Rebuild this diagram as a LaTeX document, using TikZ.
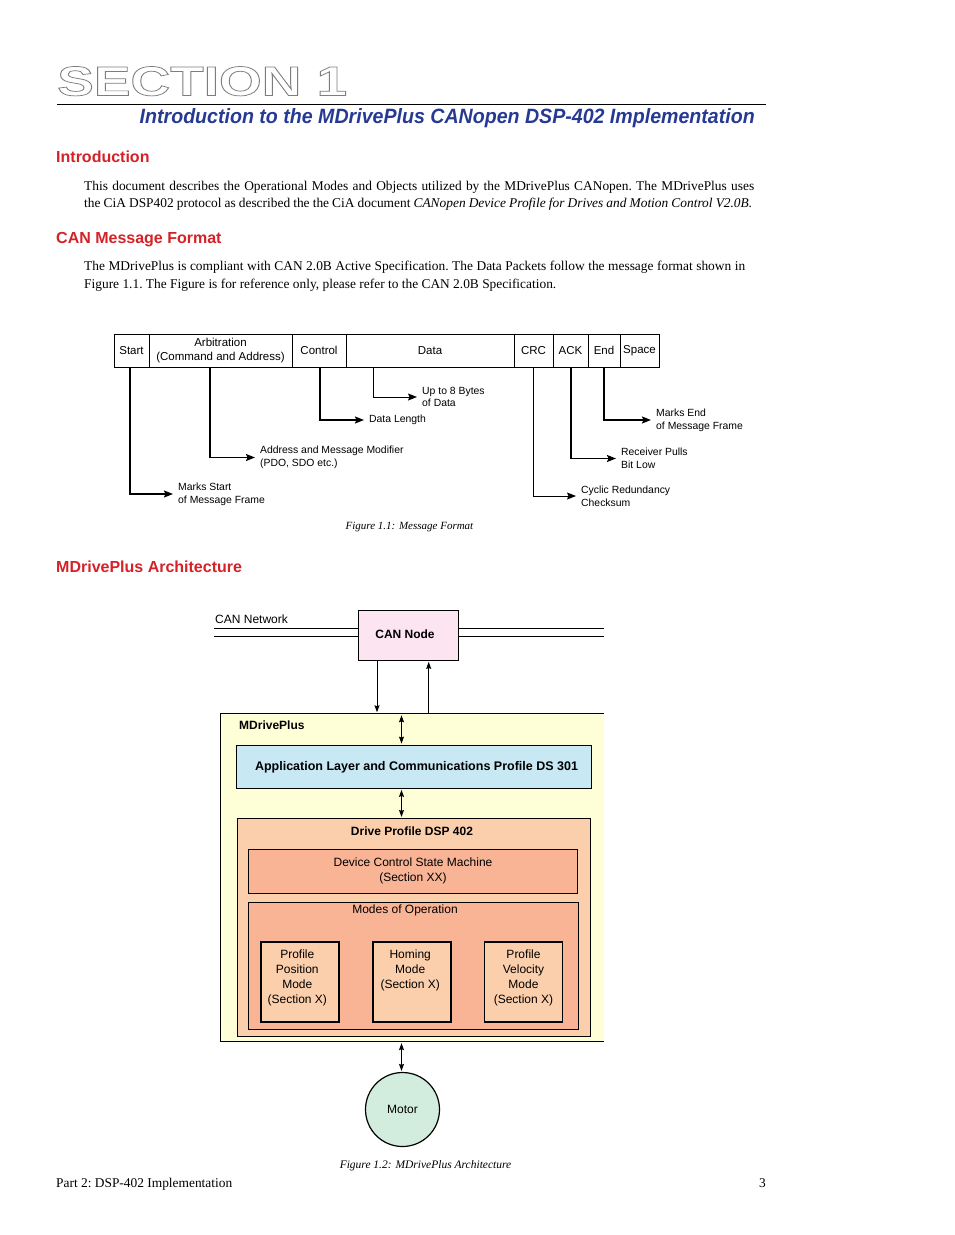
\documentclass[tikz,border=0pt]{standalone}
\usepackage{fontspec}
\setmainfont{Liberation Serif}
\setsansfont{Liberation Sans}
\usetikzlibrary{arrows.meta}
\definecolor{titleblue}{RGB}{38,58,148}
\definecolor{headred}{RGB}{212,34,40}
\definecolor{nodepink}{RGB}{252,228,240}
\definecolor{mdyellow}{RGB}{255,255,215}
\definecolor{appblue}{RGB}{200,233,244}
\definecolor{peach}{RGB}{252,207,172}
\definecolor{salmon}{RGB}{249,180,150}
\definecolor{motorgreen}{RGB}{210,236,222}
\definecolor{outlinegray}{RGB}{125,125,125}
\newcommand\fTab{\sffamily\fontsize{11.5}{13.5}\selectfont}
\newcommand\fLbl{\sffamily\fontsize{10.4}{12.7}\selectfont}
\newcommand\fFig{\sffamily\fontsize{12}{15}\selectfont}
\newcommand\fBody{\rmfamily\fontsize{13.4}{17}\selectfont\frenchspacing}
\newcommand\fHead{\sffamily\bfseries\fontsize{16}{19}\selectfont}
\newcommand\fCap{\rmfamily\itshape\fontsize{11}{13}\selectfont}
\newcommand\outln[1]{\special{pdf:literal direct 1 Tr 0.7 w}#1\special{pdf:literal direct 0 Tr}}
\begin{document}
\begin{tikzpicture}[x=1pt,y=-1pt,
  txt/.style={inner sep=0pt},
  body/.style={txt,font=\fBody,anchor=base west},
  head/.style={txt,font=\fHead,text=headred,anchor=base west},
  cell/.style={draw,line width=0.8pt,minimum height=33pt,inner sep=0pt,font=\fTab,align=center},
  lbl/.style={font=\fLbl,align=left,anchor=west,inner xsep=5pt,inner ysep=0pt},
  lthick/.style={line width=1.6pt,-{Stealth[length=9pt,width=7pt,inset=1.5pt]}},
  lthin/.style={line width=0.9pt,-{Stealth[length=9pt,width=7pt,inset=1.5pt]}},
  box/.style={draw,line width=0.8pt,inner sep=0pt,font=\fFig,align=center},
  modebox/.style={draw,line width=1.8pt,fill=peach,minimum width=78pt,minimum height=80.6pt,inner sep=0pt},
  modetext/.style={txt,font=\fFig,align=center,anchor=north},
  sarrow/.style={line width=0.9pt,-{Stealth[length=7pt,width=5pt,inset=1pt]}},
  dbl/.style={line width=0.9pt,{Stealth[length=7pt,width=5pt,inset=1pt]}-{Stealth[length=7pt,width=5pt,inset=1pt]}}
]
\useasboundingbox (0,0) rectangle (954,1235);
\fill[white] (0,0) rectangle (954,1235);

% ---------- header ----------
\node[txt,anchor=base west,text=outlinegray] (sect) at (57,95.5)
  {\resizebox{290pt}{29pt}{\sffamily\bfseries\fontsize{40}{40}\selectfont\outln{SECTION 1}}};
\coordinate (ruleL) at (57,104);
\coordinate (ruleR) at (766,104);
\draw[line width=0.8pt] (ruleL) -- (ruleR);
\node[txt,anchor=base east,text=titleblue] (title) at (755,123.3)
  {\resizebox{615pt}{15pt}{\sffamily\bfseries\itshape Introduction to the MDrivePlus CANopen DSP-402 Implementation}};

% ---------- Introduction ----------
\node[head] (h1) at (56,162.7) {Introduction};
\node[body] (p1) at (84,190.5) {\makebox[670pt][s]{This document describes the Operational Modes and Objects utilized by the MDrivePlus CANopen. The MDrivePlus uses}};
\node[body] (p2) at (84,207.5) {\makebox[668pt][s]{the CiA DSP402 protocol as described the the CiA document \textit{CANopen Device Profile for Drives and Motion Control V2.0B.}}};

\node[head] (h2) at (56,243) {CAN Message Format};
\node[body] (p3) at (84,270.5) {\makebox[661pt][s]{The MDrivePlus is compliant with CAN 2.0B Active Specification. The Data Packets follow the message format shown in}};
\node[body] (p4) at (84,288.5) {Figure 1.1. The Figure  is for reference only, please refer to the CAN 2.0B Specification.};

% ---------- Figure 1.1 ----------
\node[cell,minimum width=35pt] (start) at (131.5,350.5) {Start};
\node[cell,minimum width=143pt] (arb) at (220.5,350.5) {Arbitration\\(Command and Address)};
\node[cell,minimum width=54pt] (ctrl) at (319,350.5) {Control};
\node[cell,minimum width=168pt] (data) at (430,350.5) {Data};
\node[cell,minimum width=39pt] (crc) at (533.5,350.5) {CRC};
\node[cell,minimum width=35pt] (ack) at (570.5,350.5) {ACK};
\node[cell,minimum width=32pt] (endc) at (604,350.5) {End};
\node[cell,minimum width=39pt] (space) at (639.5,350.5) {Space};

\node[lbl] (lstart) at (173,494) {Marks Start\\of Message Frame};
\node[lbl] (larb) at (255,457.5) {Address and Message Modifier\\(PDO, SDO etc.)};
\node[lbl] (lctrl) at (364,420) {Data Length};
\node[lbl] (ldata) at (417,397) {Up to 8 Bytes\\of Data};
\node[lbl] (lcrc) at (576,496) {Cyclic Redundancy\\Checksum};
\node[lbl] (lack) at (616,458.5) {Receiver Pulls\\Bit Low};
\node[lbl] (lend) at (651,420) {Marks End\\of Message Frame};

\draw[lthick] ([xshift=-1.5pt]start.south) |- (lstart.west);
\draw[lthick] ([xshift=-10.5pt]arb.south) |- (larb.west);
\draw[lthick] ([xshift=1pt]ctrl.south) |- (lctrl.west);
\draw[lthin] ([xshift=-57pt]data.south) |- (ldata.west);
\draw[lthin] ([xshift=-0.5pt]crc.south) |- (lcrc.west);
\draw[lthick] ([xshift=0.5pt]ack.south) |- (lack.west);
\draw[lthick] (endc.south) |- (lend.west);

\node[txt,font=\fCap] (cap1) at (409.5,527) {Figure 1.1: Message Format};

% ---------- Architecture ----------
\node[head] (h3) at (56,572) {MDrivePlus Architecture};

\node[box,fill=nodepink,minimum width=100pt,minimum height=50pt,font=\fFig\bfseries] (canode) at (408,635) {\raisebox{1pt}{CAN Node\hspace{6pt}}};
\node[txt,font=\fFig,anchor=west] (cannet) at (215,619.5) {CAN Network};
\coordinate (netL1) at (214,628.3);
\coordinate (netL2) at (214,636);
\coordinate (netR1) at (604,628.3);
\coordinate (netR2) at (604,636);
\draw[line width=0.8pt] (netL1) -- (netL1 -| canode.west);
\draw[line width=0.8pt] (netL2) -- (netL2 -| canode.west);
\draw[line width=0.8pt] (netR1 -| canode.east) -- (netR1);
\draw[line width=0.8pt] (netR2 -| canode.east) -- (netR2);

\node[fill=mdyellow,minimum width=383pt,minimum height=327.5pt,inner sep=0pt] (mdp) at (412.5,877.7) {};
\draw[line width=0.9pt] (mdp.north east) -- (mdp.north west) -- (mdp.south west) -- (mdp.south east);
\node[txt,font=\fFig\bfseries,anchor=west] (mdplbl) at (239,725.5) {MDrivePlus};

\draw[sarrow,shorten >=1.5pt] ([xshift=-31pt]canode.south) -- ([xshift=-31pt]canode.south |- mdp.north);
\draw[sarrow,shorten >=1.5pt] ([xshift=20.7pt]canode.south |- mdp.north) -- ([xshift=20.7pt]canode.south);

\node[box,fill=appblue,minimum width=355pt,minimum height=43pt,font=\sffamily\bfseries\fontsize{12.5}{15}\selectfont] (app) at (414,767) {\raisebox{3pt}{\hspace{5pt}Application Layer and Communications Profile DS 301}};
\draw[dbl,shorten <=1.5pt,shorten >=1.5pt] ([xshift=-12.5pt]app.north |- mdp.north) -- ([xshift=-12.5pt]app.north);

\node[box,fill=peach,minimum width=353.4pt,minimum height=217.7pt] (dsp) at (414,927.15) {};
\node[txt,font=\fFig\bfseries] (dsptitle) at (412,830.7) {Drive Profile DSP 402};
\draw[dbl,shorten <=1pt,shorten >=1pt] ([xshift=-12.5pt]app.south) -- ([xshift=-12.5pt]app.south |- dsp.north);

\node[box,fill=salmon,minimum width=329.4pt,minimum height=44pt] (dcsm) at (413,871.3) {Device Control State Machine\\(Section XX)};

\node[box,fill=salmon,minimum width=330pt,minimum height=127pt] (modes) at (413,965.8) {};
\node[txt,font=\fFig] (modestitle) at (405,910.7) {Modes of Operation};

\node[modebox] (ppm) at (300.3,982) {};
\node[modebox] (hom) at (412.2,982) {};
\node[modebox] (pvm) at (523.5,982) {};
\node[modetext] (ppmt) at ([xshift=-3pt,yshift=-8.6pt]ppm.north) {Profile\\Position\\Mode\\(Section X)};
\node[modetext] (homt) at ([xshift=-2pt,yshift=-8.6pt]hom.north) {Homing\\Mode\\(Section X)};
\node[modetext] (pvmt) at ([yshift=-8.6pt]pvm.north) {Profile\\Velocity\\Mode\\(Section X)};

\node[draw,circle,line width=1.2pt,fill=motorgreen,minimum size=74pt,inner sep=0pt,font=\fFig] (motor) at (402.5,1109.5) {\raisebox{-2pt}{Motor}};
\draw[dbl,shorten <=1.5pt,shorten >=1pt] ([xshift=-11pt]mdp.south) -- ([xshift=-11pt]mdp.south |- motor.north);

\node[txt,font=\fCap\fontsize{11.5}{13}\selectfont] (cap2) at (425.5,1165.5) {Figure 1.2: MDrivePlus Architecture};

% ---------- footer ----------
\node[body] (foot) at (56,1187) {Part 2: DSP-402 Implementation};
\node[txt,font=\fBody,anchor=base east] (pagenum) at (766,1187) {3};
\end{tikzpicture}
\end{document}
